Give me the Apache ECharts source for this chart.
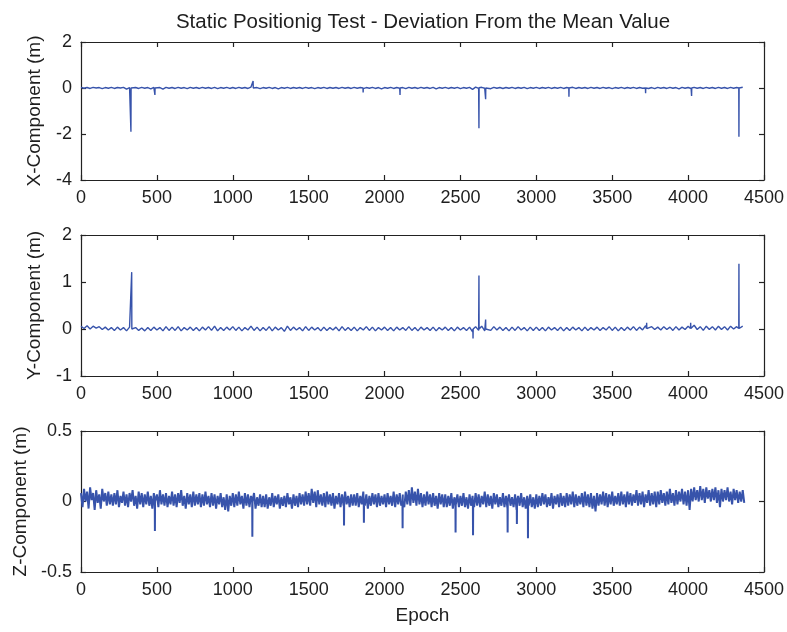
<!DOCTYPE html>
<html>
<head>
<meta charset="utf-8">
<script src="https://cdn.jsdelivr.net/npm/echarts@6/dist/echarts.min.js"></script>
<style>
html,body{margin:0;padding:0;background:#fff;}
#chart{width:787px;height:632px;}
</style>
</head>
<body>
<div id="chart"></div>
<script>
// ---------- DATA ----------
const titleText = 'Static Positionig Test - Deviation From the Mean Value';
const xAxisTicks = [0, 500, 1000, 1500, 2000, 2500, 3000, 3500, 4000, 4500];
const yNames = ['X-Component (m)', 'Y-Component (m)', 'Z-Component (m)'];

// sampling step (epochs) of the base values
const epochStepXY = 20;
const epochStepZ = 10;

// X component, one value every 20 epochs (m)
const xValues = [
  0.03,-0.01,0.02,-0.02,0.03,0.00,0.02,-0.03,0.02,-0.01,
  0.03,-0.02,0.02,0.00,0.03,-0.05,0.02,-0.01,0.02,-0.02,
  0.03,-0.01,0.02,-0.04,0.03,-0.02,0.02,-0.05,0.03,-0.01,
  0.02,-0.02,0.03,-0.01,0.02,-0.03,0.03,-0.01,0.02,-0.02,
  0.03,-0.01,0.02,-0.02,0.03,-0.03,0.02,-0.01,0.03,-0.02,
  0.02,-0.02,0.03,-0.01,0.02,-0.02,0.04,-0.01,0.02,-0.03,
  0.02,-0.01,0.03,-0.02,0.02,-0.04,0.02,-0.01,0.03,-0.02,
  0.02,-0.01,0.02,-0.02,0.03,-0.01,0.02,-0.03,0.02,-0.01,
  0.03,-0.02,0.02,-0.01,0.02,-0.02,0.03,-0.01,0.02,-0.02,
  0.03,-0.01,0.02,-0.03,0.02,-0.01,0.03,-0.02,0.02,-0.04,
  0.02,-0.01,0.03,-0.02,0.02,-0.01,0.02,-0.03,0.03,-0.01,
  0.02,-0.02,0.03,-0.01,0.02,-0.02,0.03,-0.04,0.02,-0.01,
  0.03,-0.02,0.02,-0.01,0.03,-0.03,0.02,-0.01,0.03,-0.06,
  0.04,-0.02,0.03,-0.01,0.02,-0.03,0.03,-0.01,0.02,-0.02,
  0.02,-0.01,0.03,-0.02,0.02,-0.01,0.03,-0.03,0.02,-0.01,
  0.03,-0.02,0.02,-0.01,0.03,-0.02,0.02,-0.01,0.03,-0.02,
  0.02,-0.01,0.03,-0.02,0.02,-0.01,0.02,-0.02,0.03,-0.01,
  0.02,-0.02,0.03,-0.01,0.02,-0.03,0.02,-0.01,0.03,-0.02,
  0.02,-0.01,0.03,-0.02,0.02,-0.01,0.03,-0.02,0.02,-0.03,
  0.03,-0.01,0.02,-0.02,0.03,-0.01,0.02,-0.04,0.03,-0.01,
  0.02,-0.02,0.03,-0.01,0.02,-0.02,0.03,-0.01,0.02,-0.02,
  0.03,-0.01,0.02,-0.02,0.03,-0.01,0.02,-0.02,0.03
];
// isolated outlier epochs (with the neighbouring epochs on each side)
const xSpikeEpochs = [
  328,329,330, 486,487,488, 1133,1134,1135, 1858,1859,1860, 2101,2102,2103,
  2621,2622,2623, 2665,2666,2667, 3214,3215,3216, 3719,3720,3721,
  4022,4023,4024, 4334,4335,4336
];
const xSpikeValues = [
  0.00,-1.90,0.00, 0.00,-0.30,0.00, 0.01,0.30,0.00, 0.00,-0.19,0.00, 0.00,-0.30,0.00,
  0.00,-1.75,0.01, 0.00,-0.49,0.00, 0.00,-0.38,0.00, 0.00,-0.23,0.00,
  0.00,-0.35,0.00, 0.00,-2.12,0.00
];

// Y component, one value every 20 epochs (m)
const yValues = [
  0.06,0.01,0.07,0.00,0.06,0.02,0.05,-0.01,0.04,-0.02,
  0.03,-0.03,0.04,-0.02,0.03,-0.04,0.04,-0.01,0.03,-0.03,
  0.02,-0.04,0.03,-0.03,0.04,-0.02,0.03,-0.04,0.05,-0.03,
  0.04,-0.03,0.05,-0.04,0.03,-0.02,0.04,-0.03,0.03,-0.04,
  0.04,-0.02,0.05,-0.03,0.06,-0.04,0.03,-0.03,0.04,-0.02,
  0.05,-0.03,0.04,-0.04,0.03,-0.02,0.06,-0.03,0.04,-0.04,
  0.03,-0.03,0.05,-0.04,0.04,-0.02,0.03,-0.05,0.06,-0.03,
  0.04,-0.02,0.03,-0.04,0.05,-0.03,0.04,-0.02,0.03,-0.04,
  0.04,-0.03,0.03,-0.02,0.04,-0.04,0.05,-0.03,0.03,-0.03,
  0.04,-0.04,0.03,-0.02,0.05,-0.03,0.04,-0.04,0.03,-0.02,
  0.04,-0.03,0.03,-0.04,0.04,-0.02,0.03,-0.03,0.05,-0.03,
  0.03,-0.04,0.04,-0.02,0.03,-0.03,0.04,-0.04,0.03,-0.02,
  0.04,-0.03,0.03,-0.04,0.04,-0.02,0.03,-0.03,0.04,-0.06,
  0.05,-0.03,0.06,-0.04,0.04,-0.03,0.05,-0.02,0.04,-0.03,
  0.03,-0.04,0.04,-0.03,0.05,-0.02,0.03,-0.04,0.04,-0.03,
  0.04,-0.03,0.03,-0.04,0.04,-0.02,0.03,-0.03,0.04,-0.04,
  0.03,-0.03,0.04,-0.02,0.03,-0.04,0.04,-0.03,0.03,-0.02,
  0.04,-0.03,0.03,-0.02,0.05,-0.03,0.04,-0.04,0.03,-0.03,
  0.04,-0.02,0.05,-0.03,0.04,-0.02,0.07,-0.03,0.05,-0.01,
  0.04,-0.02,0.05,-0.01,0.04,-0.03,0.05,-0.02,0.04,-0.01,
  0.06,-0.02,0.08,-0.01,0.05,-0.03,0.06,-0.01,0.05,-0.02,
  0.06,-0.01,0.05,-0.02,0.06,0.00,0.05,-0.03,0.06
];
const ySpikeEpochs = [
  333,334,335, 2582,2583,2584, 2621,2622,2623, 2665,2666,2667,
  3726,3727,3728, 4016,4017,4018, 4334,4335,4336
];
const ySpikeValues = [
  0.00,1.21,0.00, 0.00,-0.20,0.00, 0.00,1.14,0.00, 0.00,0.20,0.00,
  0.01,0.13,0.01, 0.01,0.13,0.01, 0.01,1.39,0.01
];

// Z component, one value every 10 epochs (m)
const zValues = [
  0.06,-0.04,0.09,0.00,0.07,-0.05,0.10,0.01,0.06,-0.06,0.08,-0.01,0.05,-0.05,0.09,0.00,0.06,-0.03,0.07,-0.02,
  0.05,-0.03,0.06,-0.02,0.08,-0.04,0.04,-0.01,0.07,-0.03,0.05,-0.04,0.06,0.00,0.08,-0.03,0.04,-0.05,0.07,-0.02,
  0.06,-0.04,0.05,-0.02,0.07,-0.03,0.04,-0.05,0.06,-0.01,0.05,-0.04,0.08,-0.02,0.05,-0.03,0.06,-0.04,0.04,-0.02,
  0.07,-0.03,0.05,-0.04,0.06,-0.01,0.08,-0.03,0.04,-0.05,0.06,-0.02,0.05,-0.04,0.07,-0.03,0.05,-0.02,0.06,-0.04,
  0.05,-0.03,0.07,-0.02,0.04,-0.04,0.06,-0.03,0.05,-0.05,0.04,-0.02,0.06,-0.04,0.03,-0.06,0.05,-0.07,0.04,-0.03,
  0.06,-0.04,0.05,-0.03,0.07,-0.02,0.04,-0.05,0.06,-0.03,0.05,-0.04,0.04,-0.02,0.06,-0.05,0.03,-0.03,0.05,-0.04,
  0.04,-0.04,0.05,-0.05,0.03,-0.03,0.06,-0.04,0.04,-0.02,0.05,-0.05,0.03,-0.03,0.04,-0.04,0.06,-0.02,0.03,-0.05,
  0.05,-0.03,0.04,-0.04,0.06,-0.02,0.05,-0.03,0.07,-0.02,0.06,-0.03,0.09,-0.01,0.07,-0.04,0.08,-0.02,0.05,-0.03,
  0.06,-0.04,0.07,-0.02,0.05,-0.03,0.06,-0.05,0.04,-0.02,0.06,-0.04,0.05,-0.03,0.07,-0.02,0.04,-0.04,0.05,-0.03,
  0.05,-0.03,0.06,-0.04,0.04,-0.02,0.07,-0.03,0.05,-0.05,0.04,-0.03,0.06,-0.02,0.05,-0.04,0.06,-0.03,0.04,-0.02,
  0.05,-0.04,0.06,-0.02,0.04,-0.03,0.07,-0.04,0.05,-0.02,0.06,-0.03,0.05,-0.04,0.07,-0.02,0.08,-0.03,0.10,-0.01,
  0.07,-0.03,0.09,-0.02,0.06,-0.04,0.05,-0.03,0.07,-0.02,0.05,-0.04,0.06,-0.03,0.04,-0.05,0.06,-0.02,0.05,-0.04,
  0.05,-0.04,0.04,-0.03,0.06,-0.05,0.03,-0.02,0.05,-0.04,0.04,-0.03,0.06,-0.04,0.03,-0.05,0.05,-0.03,0.04,-0.04,
  0.06,-0.03,0.05,-0.04,0.04,-0.02,0.07,-0.04,0.05,-0.03,0.04,-0.05,0.06,-0.02,0.05,-0.04,0.03,-0.03,0.06,-0.04,
  0.04,-0.05,0.05,-0.03,0.03,-0.04,0.05,-0.06,0.04,-0.03,0.06,-0.04,0.03,-0.05,0.04,-0.03,0.05,-0.04,0.03,-0.05,
  0.05,-0.04,0.04,-0.03,0.06,-0.02,0.05,-0.04,0.03,-0.03,0.06,-0.05,0.04,-0.02,0.05,-0.04,0.06,-0.03,0.04,-0.04,
  0.06,-0.03,0.05,-0.02,0.07,-0.04,0.05,-0.03,0.04,-0.02,0.06,-0.04,0.07,-0.03,0.05,-0.04,0.06,-0.05,0.04,-0.07,
  0.06,-0.03,0.05,-0.02,0.07,-0.03,0.06,-0.04,0.05,-0.02,0.07,-0.03,0.04,-0.02,0.06,-0.03,0.07,-0.02,0.05,-0.04,
  0.07,-0.02,0.06,-0.03,0.05,-0.01,0.08,-0.03,0.06,-0.02,0.07,-0.04,0.05,-0.01,0.08,-0.03,0.06,-0.02,0.07,-0.04,
  0.07,-0.02,0.08,-0.01,0.06,-0.03,0.07,-0.02,0.09,-0.01,0.06,-0.03,0.08,-0.02,0.07,0.00,0.09,-0.02,0.07,-0.03,
  0.08,-0.06,0.09,0.00,0.10,0.01,0.08,0.00,0.11,0.01,0.09,-0.01,0.10,0.02,0.08,0.00,0.09,0.01,0.10,-0.01,
  0.08,-0.04,0.09,0.00,0.08,0.01,0.10,0.00,0.07,-0.02,0.09,0.01,0.08,-0.01,0.07,0.00,0.08,-0.01
];
const zSpikeEpochs = [
  486,487,488, 1128,1129,1130, 1732,1733,1734, 1863,1864,1865, 2118,2119,2120,
  2467,2468,2469, 2582,2583,2584, 2810,2811,2812, 2871,2872,2873, 2944,2945,2946
];
const zSpikeValues = [
  0.00,-0.21,0.00, 0.00,-0.25,0.00, 0.00,-0.17,0.00, 0.00,-0.15,0.00, 0.00,-0.19,0.00,
  0.00,-0.22,0.00, 0.00,-0.24,0.00, 0.00,-0.22,0.00, 0.00,-0.16,0.00, 0.00,-0.26,0.00
];

// ---------- BUILD ----------
function buildPoints(step, vals, spE, spV) {
  const pts = vals.map((v, i) => [i * step, v]);
  spE.forEach((e, k) => pts.push([e, spV[k]]));
  pts.sort((a, b) => a[0] - b[0]);
  return pts;
}
const seriesData = [
  buildPoints(epochStepXY, xValues, xSpikeEpochs, xSpikeValues),
  buildPoints(epochStepXY, yValues, ySpikeEpochs, ySpikeValues),
  buildPoints(epochStepZ, zValues, zSpikeEpochs, zSpikeValues)
];
const yRanges = [
  {min: -4, max: 2, interval: 2},
  {min: -1, max: 2, interval: 1},
  {min: -0.5, max: 0.5, interval: 0.5}
];
const lineWidths = [1.4, 1.4, 2.0];

const FONT = 'Liberation Sans, Arial, sans-serif';
const TXT = '#1e1e1e';
const AX = '#222222';
const LINE = '#3753ab';

const grids = [
  {left: 81, right: 23, top: 42, height: 138},
  {left: 81, right: 23, top: 235, height: 141},
  {left: 81, right: 23, top: 431, height: 141}
];

const xAxes = [], yAxes = [], series = [];
grids.forEach((g, i) => {
  const common = {
    type: 'value', gridIndex: i,
    min: xAxisTicks[0], max: xAxisTicks[xAxisTicks.length - 1],
    interval: xAxisTicks[1] - xAxisTicks[0],
    splitLine: {show: false},
    axisLine: {show: true, onZero: false, lineStyle: {color: AX, width: 1.2}},
    axisTick: {show: true, inside: true, length: 5, lineStyle: {color: AX, width: 1.2}}
  };
  xAxes.push(Object.assign({}, common, {
    position: 'bottom',
    axisLabel: {show: true, margin: 9, fontSize: 18, color: TXT, fontFamily: FONT,
      formatter: v => String(v)},
    name: i === 2 ? 'Epoch' : '',
    nameLocation: 'middle', nameGap: 34,
    nameTextStyle: {fontSize: 19, color: TXT, fontFamily: FONT}
  }));
  xAxes.push(Object.assign({}, common, {position: 'top', axisLabel: {show: false}}));
  const yc = {
    type: 'value', gridIndex: i,
    min: yRanges[i].min, max: yRanges[i].max, interval: yRanges[i].interval,
    splitLine: {show: false},
    axisLine: {show: true, onZero: false, lineStyle: {color: AX, width: 1.2}},
    axisTick: {show: true, inside: true, length: 5, lineStyle: {color: AX, width: 1.2}}
  };
  yAxes.push(Object.assign({}, yc, {
    position: 'left',
    axisLabel: {show: true, margin: 9, fontSize: 18, color: TXT, fontFamily: FONT,
      formatter: v => String(v)},
    name: yNames[i], nameLocation: 'middle', nameGap: 37, nameRotate: 90,
    nameTextStyle: {fontSize: 19, color: TXT, fontFamily: FONT}
  }));
  yAxes.push(Object.assign({}, yc, {position: 'right', axisLabel: {show: false}}));
  series.push({
    type: 'line', xAxisIndex: i * 2, yAxisIndex: i * 2,
    data: seriesData[i], showSymbol: false, symbol: 'none',
    lineStyle: {color: LINE, width: lineWidths[i]}, animation: false
  });
});

const chart = echarts.init(document.getElementById('chart'), null, {renderer: 'canvas'});
chart.setOption({
  backgroundColor: '#ffffff',
  animation: false,
  title: {
    text: titleText, left: 418, top: 7, textAlign: 'center',
    textStyle: {fontSize: 20.5, fontWeight: 'normal', color: TXT, fontFamily: FONT}
  },
  grid: grids,
  xAxis: xAxes,
  yAxis: yAxes,
  series: series
});
</script>
</body>
</html>
